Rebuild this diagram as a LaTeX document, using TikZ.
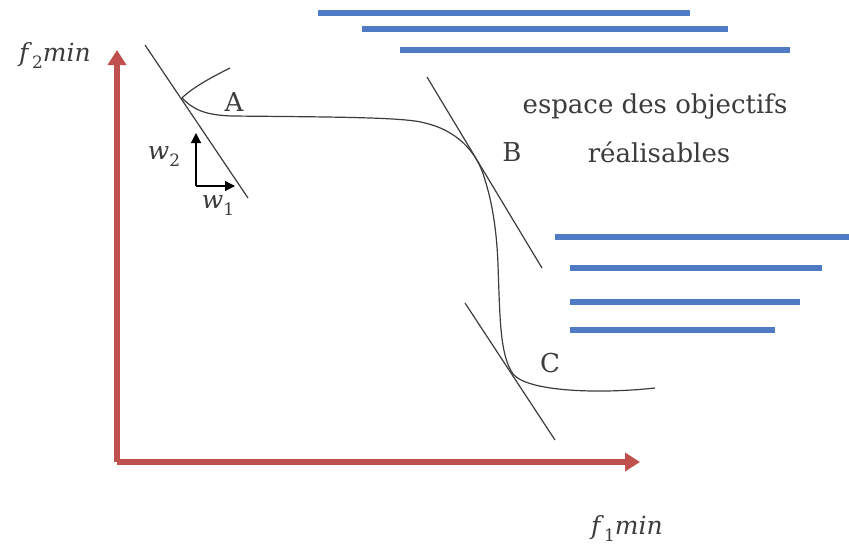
\documentclass[tikz,border=0pt]{standalone}
\usepackage{fontspec}
\setmainfont{DejaVu Serif}
\usetikzlibrary{arrows.meta}
\definecolor{axred}{HTML}{C0504D}
\definecolor{barblue}{HTML}{4F7BC4}
\definecolor{ink}{HTML}{3C3C3C}
\newcommand{\isub}[2]{\textit{#1}\raisebox{-0.28em}{\fontsize{17}{18}\selectfont #2}}
\begin{document}
\begin{tikzpicture}[x=1pt,y=-1pt,
  bar/.style={barblue,line width=5.2pt},
  axis/.style={axred,line width=6.5pt,-{Triangle[length=15pt,width=18pt]}},
  thin/.style={ink,line width=1.2pt},
  lbl/.style={ink,inner sep=0pt,font=\fontsize{26}{28}\selectfont},
  mlbl/.style={ink,inner sep=0pt,font=\fontsize{25}{27}\selectfont},
  txt/.style={ink,inner sep=0pt,font=\fontsize{26}{28}\selectfont},
  wvec/.style={black,line width=1.2pt,-{Triangle[length=10pt,width=10pt]}}]
\useasboundingbox (0,0) rectangle (849,550);
% blue bars
\foreach \i/\xa/\xb/\yy in {1/318/690/13,2/362/728/29,3/400/790/50,4/555/849/237,5/570/822/268,6/570/800/302,7/570/775/330}{
  \coordinate (b\i l) at (\xa,\yy); \coordinate (b\i r) at (\xb,\yy);
  \draw[bar] (b\i l) -- (b\i r);
}
% axes
\coordinate (O) at (117,462);
\coordinate (ytip) at (117,50);
\coordinate (xtip) at (640,462);
\draw[axis] (O) -- (ytip);
\draw[axis] (O) -- (xtip);
\node[mlbl] (f2) at (55,55) {\isub{f}{2}\textit{min}};
\node[mlbl] (f1) at (627,528) {\isub{f}{1}\textit{min}};
% tangents
\coordinate (ta1) at (145,45); \coordinate (ta2) at (248,198);
\coordinate (tb1) at (427,77); \coordinate (tb2) at (542,268);
\coordinate (tc1) at (465,303); \coordinate (tc2) at (555,440);
\draw[thin] (ta1) -- (ta2);
\draw[thin] (tb1) -- (tb2);
\draw[thin] (tc1) -- (tc2);
% front curve
\coordinate (s) at (230,68);
\coordinate (pA) at (182,98);
\coordinate (pB) at (485,180);
\coordinate (pC) at (513,374);
\coordinate (e) at (655,388);
\draw[thin] (s) .. controls (210,78) and (192,88) .. (pA)
  .. controls (194,110) and (205,115) .. (232,116)
  .. controls (330,117) and (405,117) .. (425,123)
  .. controls (455,130) and (477,150) .. (pB)
  .. controls (493,205) and (497,235) .. (498,265)
  .. controls (500,320) and (500,355) .. (pC)
  .. controls (528,392) and (600,394) .. (e);
% labels
\node[lbl] (A) at (234,102) {A};
\node[lbl] (B) at (512,152) {B};
\node[lbl] (C) at (550,363) {C};
\node[txt,anchor=base] (t1) at (655,113) {espace des objectifs};
\node[txt,anchor=base] (t2) at (659,162) {réalisables};
% weight vector
\coordinate (w0) at (196,186);
\coordinate (w2t) at (196,133);
\coordinate (w1t) at (235,186);
\draw[wvec] (w0) -- (w2t);
\draw[wvec] (w0) -- (w1t);
\node[mlbl] (w2) at (164,157) {\isub{w}{2}};
\node[mlbl] (w1) at (218,206) {\isub{w}{1}};
\end{tikzpicture}
\end{document}
